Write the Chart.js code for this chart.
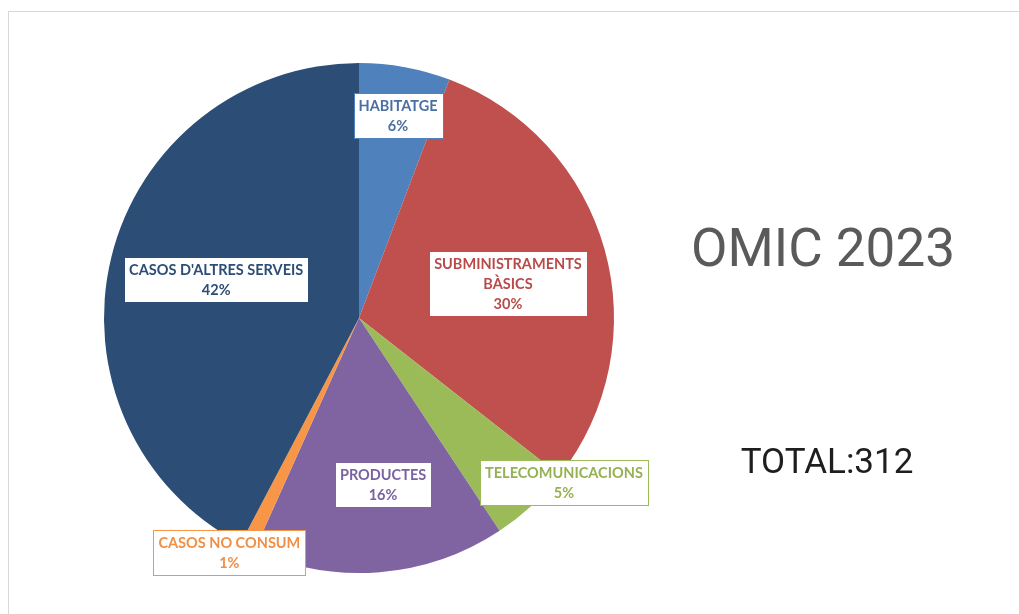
<!DOCTYPE html>
<html>
<head>
<meta charset="utf-8">
<script src="https://cdn.jsdelivr.net/npm/chart.js@4/dist/chart.umd.min.js"></script>
<style>
  html, body { margin: 0; padding: 0; background: #ffffff; }
  #wrap { position: relative; width: 1019px; height: 614px; overflow: hidden; }
  #frame { position: absolute; left: 8px; top: 11px; right: -2px; bottom: -2px;
           border-top: 1px solid #d8d8d8; border-left: 1px solid #d8d8d8; }
  canvas { position: absolute; left: 0; top: 0; }
</style>
</head>
<body>
<div id="wrap">
  <div id="frame"></div>
  <canvas id="c" width="1019" height="614"></canvas>
</div>
<script>
// ---- data ----
const categories = ['HABITATGE', 'SUBMINISTRAMENTS BÀSICS', 'TELECOMUNICACIONS', 'PRODUCTES', 'CASOS NO CONSUM', "CASOS D'ALTRES SERVEIS"];
const labelLines = [['HABITATGE'], ['SUBMINISTRAMENTS', 'BÀSICS'], ['TELECOMUNICACIONS'], ['PRODUCTES'], ['CASOS NO CONSUM'], ["CASOS D'ALTRES SERVEIS"]];
const values = [18, 93, 16, 50, 3, 132];
const titleText = 'OMIC 2023';
const totalPrefix = 'TOTAL:';

// ---- styles ----
const sliceColors = ['#4F81BD', '#C0504D', '#9BBB59', '#8064A2', '#F79646', '#2C4D75'];
const textColors  = ['#4A6FA3', '#B84A4A', '#94B254', '#7A62A0', '#F08F45', '#2C4D75'];
// label placement: radial fraction of radius, angle offset (degrees) from slice mid-angle
const placement = [
  { r: 0.81, da: 0.5 },
  { r: 0.60, da: 2.4 },
  { r: 1.03, da: -8.6 },
  { r: 0.66, da: -3.6 },
  { r: 1.05, da: 3.0 },
  { r: 0.58, da: 1.2 }
];

const labelPlugin = {
  id: 'boxLabels',
  afterDatasetsDraw(chart) {
    const ctx = chart.ctx;
    const meta = chart.getDatasetMeta(0);
    const total = values.reduce((a, b) => a + b, 0);
    ctx.save();
    ctx.font = 'bold 14.5px Lato, "Open Sans", sans-serif';
    ctx.textAlign = 'center';
    ctx.textBaseline = 'middle';
    meta.data.forEach((arc, i) => {
      const p = placement[i];
      const mid = (arc.startAngle + arc.endAngle) / 2 + p.da * Math.PI / 180;
      const cx = arc.x + Math.cos(mid) * arc.outerRadius * p.r;
      const cy = arc.y + Math.sin(mid) * arc.outerRadius * p.r;
      const pct = Math.round(values[i] / total * 100) + '%';
      const lines = labelLines[i].concat([pct]);
      let w = 0;
      lines.forEach(l => { w = Math.max(w, ctx.measureText(l).width); });
      const lh = 20;
      const bw = Math.round(w + 10);
      const bh = lines.length * lh + 5;
      const bx = Math.round(cx - bw / 2) + 0.5;
      const by = Math.round(cy - bh / 2) + 0.5;
      ctx.fillStyle = '#ffffff';
      ctx.fillRect(bx, by, bw, bh);
      ctx.strokeStyle = sliceColors[i];
      ctx.lineWidth = 1;
      ctx.strokeRect(bx, by, bw, bh);
      ctx.fillStyle = textColors[i];
      lines.forEach((l, k) => {
        ctx.fillText(l, cx, by + 2.5 + lh / 2 + k * lh);
      });
    });
    ctx.restore();
  },
  afterDraw(chart) {
    const ctx = chart.ctx;
    const total = values.reduce((a, b) => a + b, 0);
    ctx.save();
    ctx.textAlign = 'center';
    ctx.textBaseline = 'alphabetic';
    ctx.fillStyle = '#5a5a5a';
    ctx.font = '53px Roboto, sans-serif';
    ctx.fillText(titleText, 823, 266);
    ctx.fillStyle = '#1e1e1e';
    ctx.font = '35px Roboto, sans-serif';
    ctx.fillText(totalPrefix + total, 827, 473);
    ctx.restore();
  }
};

new Chart(document.getElementById('c'), {
  type: 'pie',
  data: {
    labels: categories,
    datasets: [{
      data: values,
      backgroundColor: sliceColors,
      borderWidth: 0
    }]
  },
  options: {
    responsive: false,
    animation: false,
    layout: { padding: { left: 104, right: 405, top: 63, bottom: 41 } },
    plugins: { legend: { display: false }, tooltip: { enabled: false }, title: { display: false } }
  },
  plugins: [labelPlugin]
});
</script>
</body>
</html>
